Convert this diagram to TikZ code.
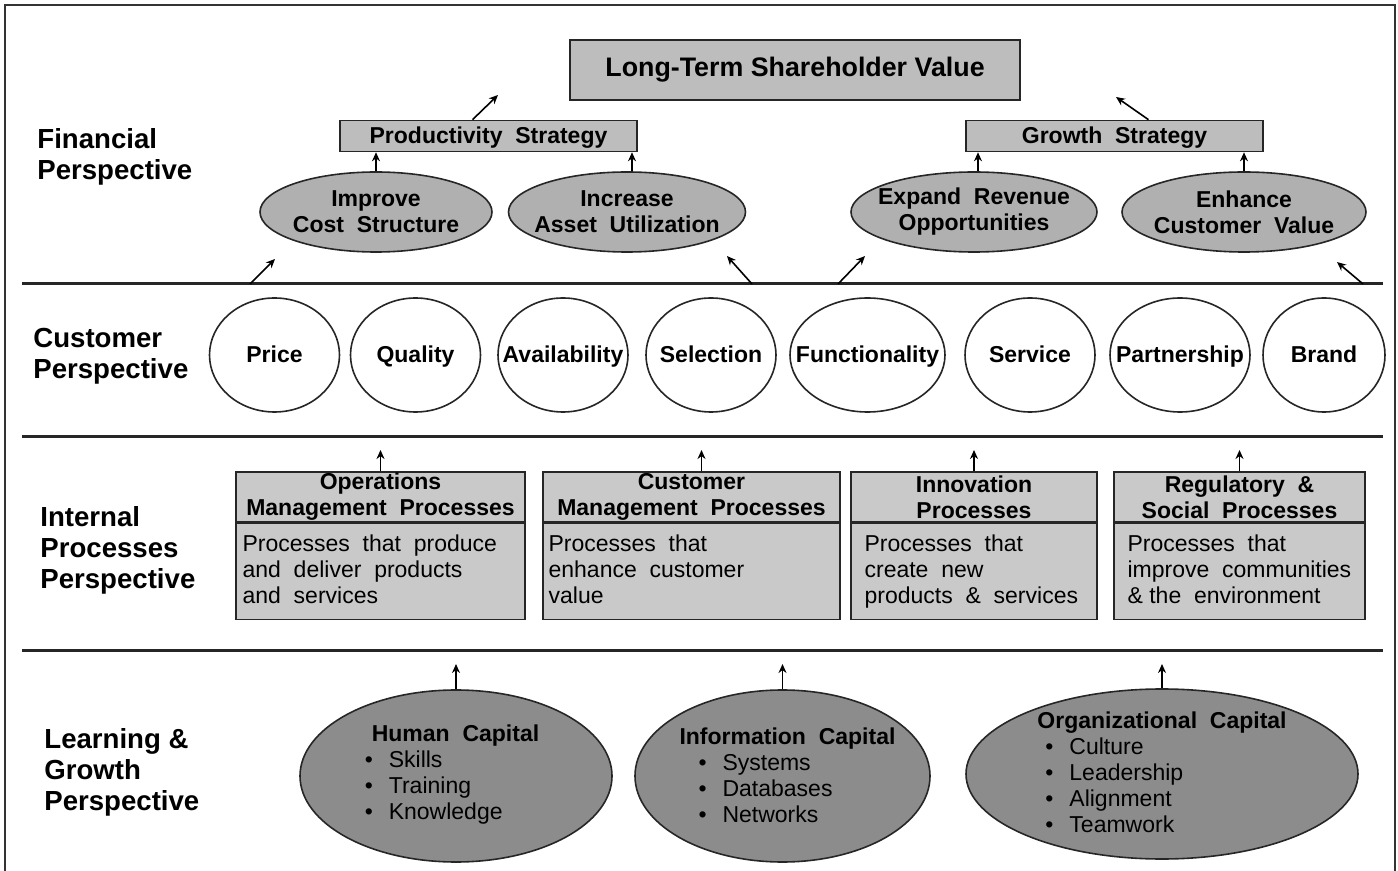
\documentclass[tikz,border=0pt]{standalone}
\usepackage{fontspec}
\setmainfont{Liberation Sans}
\usetikzlibrary{shapes.geometric, arrows.meta, positioning, calc}

\definecolor{boxgray}{gray}{0.74}
\definecolor{ovalgray}{gray}{0.69}
\definecolor{procgray}{gray}{0.79}
\definecolor{capgray}{gray}{0.55}

\begin{document}
\begin{tikzpicture}[x=0.5pt, y=-0.5pt,
    % Define styles
    perspective/.style={anchor=west, align=left, inner sep=0pt, font=\fontsize{13.8}{15.5}\selectfont\bfseries},
    valuebox/.style={rectangle, draw=black!85, thick, fill=boxgray, minimum width=225pt, minimum height=30pt, font=\fontsize{13.4}{15}\selectfont\bfseries},
    strategybox/.style={rectangle, draw=black!85, thick, fill=boxgray, minimum width=148.5pt, minimum height=15.5pt, inner sep=0pt, text height=8.5pt, text depth=0.5pt, font=\fontsize{11.5}{13}\selectfont\bfseries},
    objective/.style={ellipse, draw=black!85, thick, fill=ovalgray, minimum height=40pt, inner sep=0pt},
    objtext/.style={align=center, inner sep=0pt, font=\fontsize{11.5}{13}\selectfont\bfseries},
    custcircle/.style={ellipse, draw=black!85, thick, fill=white, minimum width=65pt, minimum height=57pt, inner sep=0pt},
    custtext/.style={inner sep=0pt, text height=8.5pt, text depth=0.5pt, font=\fontsize{11.5}{13}\selectfont\bfseries},
    prochead/.style={rectangle, draw=black!85, thick, fill=procgray, minimum height=25pt, inner sep=0pt, align=center, font=\fontsize{11.5}{13}\selectfont\bfseries},
    procbody/.style={rectangle, draw=black!85, thick, fill=procgray, minimum height=48pt, inner sep=0pt},
    proctext/.style={anchor=north west, align=left, inner sep=0pt, font=\fontsize{11.5}{13}\selectfont},
    capital/.style={ellipse, draw=black!85, thick, fill=capgray, minimum height=86pt, inner sep=0pt},
    captext/.style={align=left, inner sep=0pt, font=\fontsize{11.5}{13}\selectfont},
    divider/.style={line width=1.5pt, draw=black!85},
    arrow/.style={-{Stealth[length=4.5pt, width=4pt]}, line width=0.8pt, draw=black}
]
    \useasboundingbox (0,0) rectangle (1398,871);

    % Outer frame (open at the bottom)
    \draw[line width=1pt, draw=black!80] (5,871) -- (5,5) -- (1395,5) -- (1395,871);

    % Perspective dividers
    \coordinate (finL) at (22,284);  \coordinate (finR) at (1383,284);
    \coordinate (custL) at (22,437); \coordinate (custR) at (1383,437);
    \coordinate (intL) at (22,650);  \coordinate (intR) at (1383,650);
    \draw[divider] (finL) -- (finR);
    \draw[divider] (custL) -- (custR);
    \draw[divider] (intL) -- (intR);

    % Perspective labels
    \node[perspective] (finlabel) at (37,157) {Financial\\Perspective};
    \node[perspective] (custlabel) at (33,356) {Customer\\Perspective};
    \node[perspective] (intlabel) at (40,550) {Internal\\Processes\\Perspective};
    \node[perspective] (learnlabel) at (44,772) {Learning \&\\Growth\\Perspective};

    % 1. Financial perspective
    \node[valuebox] (value) at (795,70) {Long-Term Shareholder Value};
    \node[strategybox] (prod) at (488.5,136) {Productivity\ \ Strategy};
    \node[strategybox] (growth) at (1114.5,136) {Growth\ \ Strategy};

    \node[objective, minimum width=116pt] (cost) at (376,212) {};
    \node[objtext] at (cost) {Improve\\Cost\ \ Structure};
    \node[objective, minimum width=118.5pt] (asset) at (627,212) {};
    \node[objtext] at (asset) {Increase\\Asset\ \ Utilization};
    \node[objective, minimum width=123pt] (revenue) at (974,212) {};
    \node[objtext] at (revenue) {Expand\ \ Revenue\\Opportunities};
    \node[objective, minimum width=122pt] (custvalue) at (1244,212) {};
    \node[objtext] at (custvalue) {Enhance\\Customer\ \ Value};

    \draw[arrow] (cost.north) -- (cost.north |- prod.south);
    \draw[arrow] ($(asset.north)+(5,0)$) -- ($(asset.north |- prod.south)+(5,0)$);
    \draw[arrow] ($(revenue.north)+(4,0)$) -- ($(revenue.north |- growth.south)+(4,0)$);
    \draw[arrow] (custvalue.north) -- (custvalue.north |- growth.south);

    % strategies feed the shareholder value
    \coordinate (prodtip) at (498,95);
    \coordinate (growthtip) at (1116,97);
    \draw[arrow] ($(prod.north)+(-16,0)$) -- (prodtip);
    \draw[arrow] ($(growth.north)+(34,0)$) -- (growthtip);

    % customer outcomes drive the financial objectives
    \coordinate (costfoot) at (250,284);     \coordinate (costtip) at (275,259);
    \coordinate (assetfoot) at (752,284);    \coordinate (assettip) at (727,256);
    \coordinate (revenuefoot) at (838,284);  \coordinate (revenuetip) at (865,256);
    \coordinate (cvaluefoot) at (1363,284);  \coordinate (cvaluetip) at (1337,262);
    \draw[arrow] (costfoot) -- (costtip);
    \draw[arrow] (assetfoot) -- (assettip);
    \draw[arrow] (revenuefoot) -- (revenuetip);
    \draw[arrow] (cvaluefoot) -- (cvaluetip);

    % 2. Customer perspective
    \node[custcircle] (price) at (274.5,355) {};
    \node[custtext] at (price) {Price};
    \node[custcircle] (quality) at (415.5,355) {};
    \node[custtext] at (quality) {Quality};
    \node[custcircle] (avail) at (563,355) {};
    \node[custtext] at (avail) {Availability};
    \node[custcircle] (selection) at (711,355) {};
    \node[custtext] at (selection) {Selection};
    \node[custcircle, minimum width=77.5pt] (function) at (867.5,355) {};
    \node[custtext] at (function) {Functionality};
    \node[custcircle] (service) at (1030,355) {};
    \node[custtext] at (service) {Service};
    \node[custcircle, minimum width=70pt] (partner) at (1180,355) {};
    \node[custtext] at (partner) {Partnership};
    \node[custcircle, minimum width=61pt] (brand) at (1324,355) {};
    \node[custtext] at (brand) {Brand};

    % 3. Internal processes
    \node[prochead, minimum width=144.5pt] (opshead) at (380.5,497) {Operations\\Management\ \ Processes};
    \node[procbody, minimum width=144.5pt, below=0pt of opshead] (opsbody) {};
    \node[proctext] at ($(opsbody.north west)+(7,12)$) {Processes\ \ that\ \ produce\\and\ \ deliver\ \ products\\and\ \ services};

    \node[prochead, minimum width=148.5pt] (cmhead) at (691.5,497) {Customer\\Management\ \ Processes};
    \node[procbody, minimum width=148.5pt, below=0pt of cmhead] (cmbody) {};
    \node[proctext] at ($(cmbody.north west)+(6,12)$) {Processes\ \ that\\enhance\ \ customer\\value};

    \node[prochead, minimum width=123pt] (innohead) at (974,497) {Innovation\\Processes};
    \node[procbody, minimum width=123pt, below=0pt of innohead] (innobody) {};
    \node[proctext] at ($(innobody.north west)+(14,12)$) {Processes\ \ that\\create\ \ new\\products\ \ \&\ \ services};

    \node[prochead, minimum width=125.5pt] (reghead) at (1239.5,497) {Regulatory\ \ \&\\Social\ \ Processes};
    \node[procbody, minimum width=125.5pt, below=0pt of reghead] (regbody) {};
    \node[proctext] at ($(regbody.north west)+(14,12)$) {Processes\ \ that\\improve\ \ communities\\\&\ the\ \ environment};

    \draw[arrow, shorten >=6.5pt] (opshead.north) -- (opshead.north |- custL);
    \draw[arrow, shorten >=6.5pt] ($(cmhead.north)+(10,0)$) -- ($(cmhead.north |- custL)+(10,0)$);
    \draw[arrow, shorten >=6.5pt] (innohead.north) -- (innohead.north |- custL);
    \draw[arrow, shorten >=6.5pt] (reghead.north) -- (reghead.north |- custL);

    % 4. Learning and growth
    \node[capital, minimum width=156pt] (human) at (456,776) {};
    \node[captext] at ($(human)+(-4,-1)$)
        {\hspace*{3.5pt}\textbf{Human\ \ Capital}\\\textbullet\hspace{8pt}Skills\\\textbullet\hspace{8pt}Training\\\textbullet\hspace{8pt}Knowledge};
    \node[capital, minimum width=147.5pt] (info) at (782.5,776) {};
    \node[captext] at ($(info)+(5,-1)$)
        {\textbf{Information\ \ Capital}\\\hspace*{9.5pt}\textbullet\hspace{8pt}Systems\\\hspace*{9.5pt}\textbullet\hspace{8pt}Databases\\\hspace*{9.5pt}\textbullet\hspace{8pt}Networks};
    \node[capital, minimum width=196pt, minimum height=85pt] (org) at (1162,774) {};
    \node[captext] at ($(org)+(0,-2)$)
        {\textbf{Organizational\ \ Capital}\\\hspace*{4pt}\textbullet\hspace{8pt}Culture\\\hspace*{4pt}\textbullet\hspace{8pt}Leadership\\\hspace*{4pt}\textbullet\hspace{8pt}Alignment\\\hspace*{4pt}\textbullet\hspace{8pt}Teamwork};

    \draw[arrow, shorten >=7pt] (human.north) -- (human.north |- intL);
    \draw[arrow, shorten >=7pt] (info.north) -- (info.north |- intL);
    \draw[arrow, shorten >=7pt] (org.north) -- (org.north |- intL);

\end{tikzpicture}
\end{document}
